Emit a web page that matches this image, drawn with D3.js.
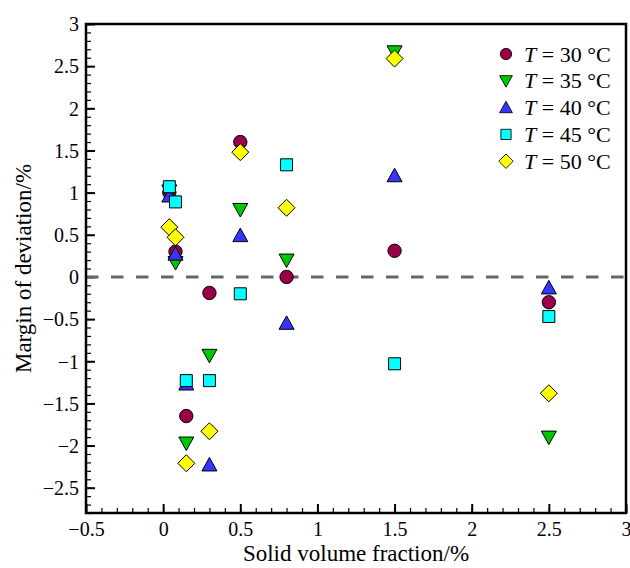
<!DOCTYPE html>
<html>
<head>
<meta charset="utf-8">
<script src="https://cdn.jsdelivr.net/npm/d3@7"></script>
<style>
  html, body { margin: 0; padding: 0; background: #fff; }
  svg { display: block; }
  text { font-family: "Liberation Serif", "Times New Roman", serif; fill: #000; }
</style>
</head>
<body>
<svg id="chart" width="630" height="568"></svg>
<script>
// Solid volume fractions (%) at which deviation was measured
const fractions = [0.04, 0.08, 0.15, 0.3, 0.5, 0.8, 1.5, 2.5];

// Margin of deviation (%) for each temperature
const dev30 = [1.00, 0.30, -1.65, -0.19, 1.60, 0.00, 0.31, -0.30];
const dev35 = [1.02, 0.17, -1.97, -0.93, 0.80, 0.20, 2.67, -1.90];
const dev40 = [0.96, 0.27, -1.27, -2.23, 0.49, -0.55, 1.20, -0.13];
const dev45 = [1.07, 0.89, -1.23, -1.23, -0.20, 1.33, -1.03, -0.47];
const dev50 = [0.59, 0.47, -2.21, -1.83, 1.48, 0.82, 2.59, -1.38];

const temperatures = [30, 35, 40, 45, 50];
const seriesValues = [dev30, dev35, dev40, dev45, dev50];
const seriesColors = ["#9a0048", "#00c800", "#3535ff", "#00ffff", "#ffff00"];
const seriesSymbols = ["circle", "triangleDown", "triangleUp", "square", "diamond"];

const xTicks = [-0.5, 0, 0.5, 1, 1.5, 2, 2.5, 3];
const yTicks = [-2.5, -2, -1.5, -1, -0.5, 0, 0.5, 1, 1.5, 2, 2.5, 3];

const SERIF = '"Liberation Serif", "Times New Roman", serif';

const svg = d3.select("#chart");
const plot = { left: 86, right: 626, top: 24, bottom: 513 };

const x = d3.scaleLinear().domain([-0.5, 3]).range([plot.left, plot.right]);
const y = d3.scaleLinear().domain([-2.8, 3]).range([plot.bottom, plot.top]);

const fmt = v => {
  const s = String(Math.abs(v));
  return v < 0 ? "\u2212" + s : s;
};

// Minor ticks every 0.1 on both axes, drawn inward
const xMinor = d3.range(-0.5, 3.0001, 0.1).map(v => +v.toFixed(2));
const yMinor = d3.range(-2.8, 3.0001, 0.1).map(v => +v.toFixed(2));

const xAxis = d3.axisBottom(x).tickValues(xTicks).tickFormat(fmt).tickSizeInner(-9).tickSizeOuter(0).tickPadding(9);
const yAxis = d3.axisLeft(y).tickValues(yTicks).tickFormat(fmt).tickSizeInner(-9).tickSizeOuter(0).tickPadding(7);

svg.append("g").attr("transform", `translate(0,${plot.bottom})`)
  .call(d3.axisBottom(x).tickValues(xMinor).tickFormat("").tickSizeInner(-5).tickSizeOuter(0))
  .call(g => g.select(".domain").remove())
  .call(g => g.selectAll("line").attr("stroke", "#000").attr("stroke-width", 1.2));

svg.append("g").attr("transform", `translate(${plot.left},0)`)
  .call(d3.axisLeft(y).tickValues(yMinor).tickFormat("").tickSizeInner(-5).tickSizeOuter(0))
  .call(g => g.select(".domain").remove())
  .call(g => g.selectAll("line").attr("stroke", "#000").attr("stroke-width", 1.2));

svg.append("g").attr("transform", `translate(0,${plot.bottom})`)
  .call(xAxis)
  .call(g => g.select(".domain").remove())
  .call(g => g.selectAll("line").attr("stroke", "#000").attr("stroke-width", 2))
  .call(g => g.selectAll("text").style("font-family", SERIF).style("font-size", "20px"));

svg.append("g").attr("transform", `translate(${plot.left},0)`)
  .call(yAxis)
  .call(g => g.select(".domain").remove())
  .call(g => g.selectAll("line").attr("stroke", "#000").attr("stroke-width", 2))
  .call(g => g.selectAll("text").style("font-family", SERIF).style("font-size", "20px").attr("dy", "0.34em"));

// Zero reference line
svg.append("line")
  .attr("x1", plot.left).attr("x2", plot.right)
  .attr("y1", y(0)).attr("y2", y(0))
  .attr("stroke", "#666").attr("stroke-width", 3)
  .attr("stroke-dasharray", "12.5,12.5");

// Frame
svg.append("rect")
  .attr("x", plot.left).attr("y", plot.top)
  .attr("width", plot.right - plot.left).attr("height", plot.bottom - plot.top)
  .attr("fill", "none").attr("stroke", "#000").attr("stroke-width", 2.5);

// Marker shapes
function markerPath(kind) {
  switch (kind) {
    case "circle": return d3.symbol(d3.symbolCircle, 140)();
    case "square": return "M-6,-6H6V6H-6Z";
    case "diamond": return "M0,-8.5L8.5,0L0,8.5L-8.5,0Z";
    case "triangleUp": return "M0,-7.5L7.5,6L-7.5,6Z";
    case "triangleDown": return "M0,7.5L7.5,-6L-7.5,-6Z";
  }
}

const series = temperatures.map((t, i) => ({
  t, color: seriesColors[i], symbol: seriesSymbols[i],
  points: fractions.map((f, j) => ({ f, v: seriesValues[i][j] }))
}));

series.forEach(s => {
  svg.append("g").selectAll("path")
    .data(s.points)
    .join("path")
    .attr("d", markerPath(s.symbol))
    .attr("transform", d => `translate(${x(d.f)},${y(d.v)})`)
    .attr("fill", s.color)
    .attr("stroke", "#000")
    .attr("stroke-width", 1);
});

// Legend
const legend = svg.append("g").attr("transform", "translate(506,54)");
series.forEach((s, i) => {
  const row = legend.append("g").attr("transform", `translate(0,${i * 26.8})`);
  row.append("path")
    .attr("d", markerPath(s.symbol))
    .attr("transform", "scale(0.85)")
    .attr("fill", s.color).attr("stroke", "#000").attr("stroke-width", 1);
  const txt = row.append("text").attr("x", 18).attr("y", 7.5).style("font-size", "22px");
  txt.append("tspan").attr("font-style", "italic").text("T");
  txt.append("tspan").text(` = ${s.t} \u00B0C`);
});

// Axis titles
svg.append("text")
  .attr("x", (plot.left + plot.right) / 2).attr("y", 561)
  .attr("text-anchor", "middle").style("font-size", "23px")
  .text("Solid volume fraction/%");

svg.append("text")
  .attr("transform", `translate(31,${(plot.top + plot.bottom) / 2}) rotate(-90)`)
  .attr("text-anchor", "middle").style("font-size", "23px")
  .text("Margin of deviation/%");
</script>
</body>
</html>
